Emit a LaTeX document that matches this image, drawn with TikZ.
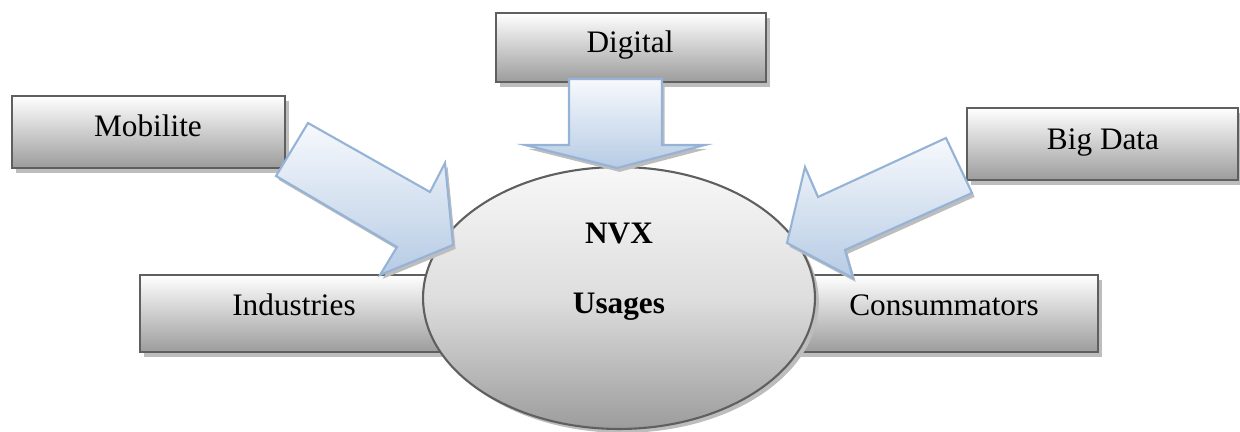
\documentclass[tikz,border=0pt]{standalone}
\usepackage{fontspec}
\setmainfont{Liberation Serif}
\usetikzlibrary{shapes.geometric,shadows}
\definecolor{boxline}{HTML}{5F5F5F}
\definecolor{boxbot}{HTML}{9C9C9C}
\definecolor{arrline}{HTML}{95B3D7}
\definecolor{arrtop}{HTML}{F7F9FD}
\definecolor{arrbot}{HTML}{B6CBE4}
\definecolor{shad}{HTML}{BDBDBD}
\tikzset{
  greybox/.style={draw=boxline, line width=1.2pt, top color=white, bottom color=boxbot,
    rectangle, inner sep=0pt,
    drop shadow={shadow xshift=2.2pt, shadow yshift=-2.6pt, fill=shad, opacity=1}},
  blockarrow/.style={draw=arrline, line width=1.2pt, top color=arrtop, bottom color=arrbot,
    line join=miter,
    drop shadow={shadow xshift=1.5pt, shadow yshift=-2.2pt, fill=shad, opacity=1}},
  boxtext/.style={font=\fontsize{17.8}{20}\selectfont, inner sep=0pt, anchor=base},
  bigtext/.style={font=\fontsize{17.8}{20}\selectfont\bfseries, inner sep=0pt, anchor=base}
}
\begin{document}
\begin{tikzpicture}[x=0.02cm, y=-0.02cm]
\useasboundingbox (0,0) rectangle (1240,432);
% top boxes
\node[greybox, minimum width=5.40cm, minimum height=1.38cm] (digital) at (631,47.5) {};
\node[greybox, minimum width=5.46cm, minimum height=1.44cm] (mobilite) at (148.5,132) {};
\node[greybox, minimum width=5.42cm, minimum height=1.44cm] (bigdata) at (1102.5,144) {};
\node[boxtext] (digitalt) at (630,53) {Digital};
\node[boxtext] (mobilitet) at (148,137) {Mobilite};
\node[boxtext] (bigdatat) at (1103,150) {Big Data};
% side boxes
\node[greybox, minimum width=6.16cm, minimum height=1.54cm] (industries) at (294,313.5) {};
\node[greybox, minimum width=6.16cm, minimum height=1.54cm] (consum) at (944,313.5) {};
\node[boxtext] (industriest) at (294,315) {Industries};
\node[boxtext] (consumt) at (944,315) {Consummators};
% ellipse
\node[ellipse, draw=boxline, line width=1.2pt, top color=white!97!black, bottom color=boxbot,
  middle color=black!13,
  minimum width=7.84cm, minimum height=5.24cm, inner sep=0pt,
  drop shadow={shadow xshift=2.2pt, shadow yshift=-2.2pt, fill=shad, opacity=1}] (nvx) at (619,298) {};
\node[bigtext] (nvxt) at (619,243) {NVX};
\node[bigtext] (usages) at (619,313) {Usages};
% arrow coordinates
\coordinate (d1) at (569,79);  \coordinate (d2) at (662,79);
\coordinate (d3) at (662,145); \coordinate (d4) at (705,145);
\coordinate (dt) at (617,168);
\coordinate (d5) at (525,145); \coordinate (d6) at (569,145);
\coordinate (m1) at (308,123); \coordinate (m2) at (430,192);
\coordinate (m3) at (445,163); \coordinate (mt) at (453,245);
\coordinate (m4) at (380,275); \coordinate (m5) at (397,247);
\coordinate (m6) at (276,176);
\coordinate (b1) at (946,138); \coordinate (b2) at (818,197);
\coordinate (b3) at (805,167); \coordinate (bt) at (787,243);
\coordinate (b4) at (853,278); \coordinate (b5) at (845,250);
\coordinate (b6) at (972,193);
% block arrows
\draw[blockarrow] (d1) -- (d2) -- (d3) -- (d4) -- (dt) -- (d5) -- (d6) -- cycle;
\draw[blockarrow] (m1) -- (m2) -- (m3) -- (mt) -- (m4) -- (m5) -- (m6) -- cycle;
\draw[blockarrow] (b1) -- (b2) -- (b3) -- (bt) -- (b4) -- (b5) -- (b6) -- cycle;
\end{tikzpicture}
\end{document}
